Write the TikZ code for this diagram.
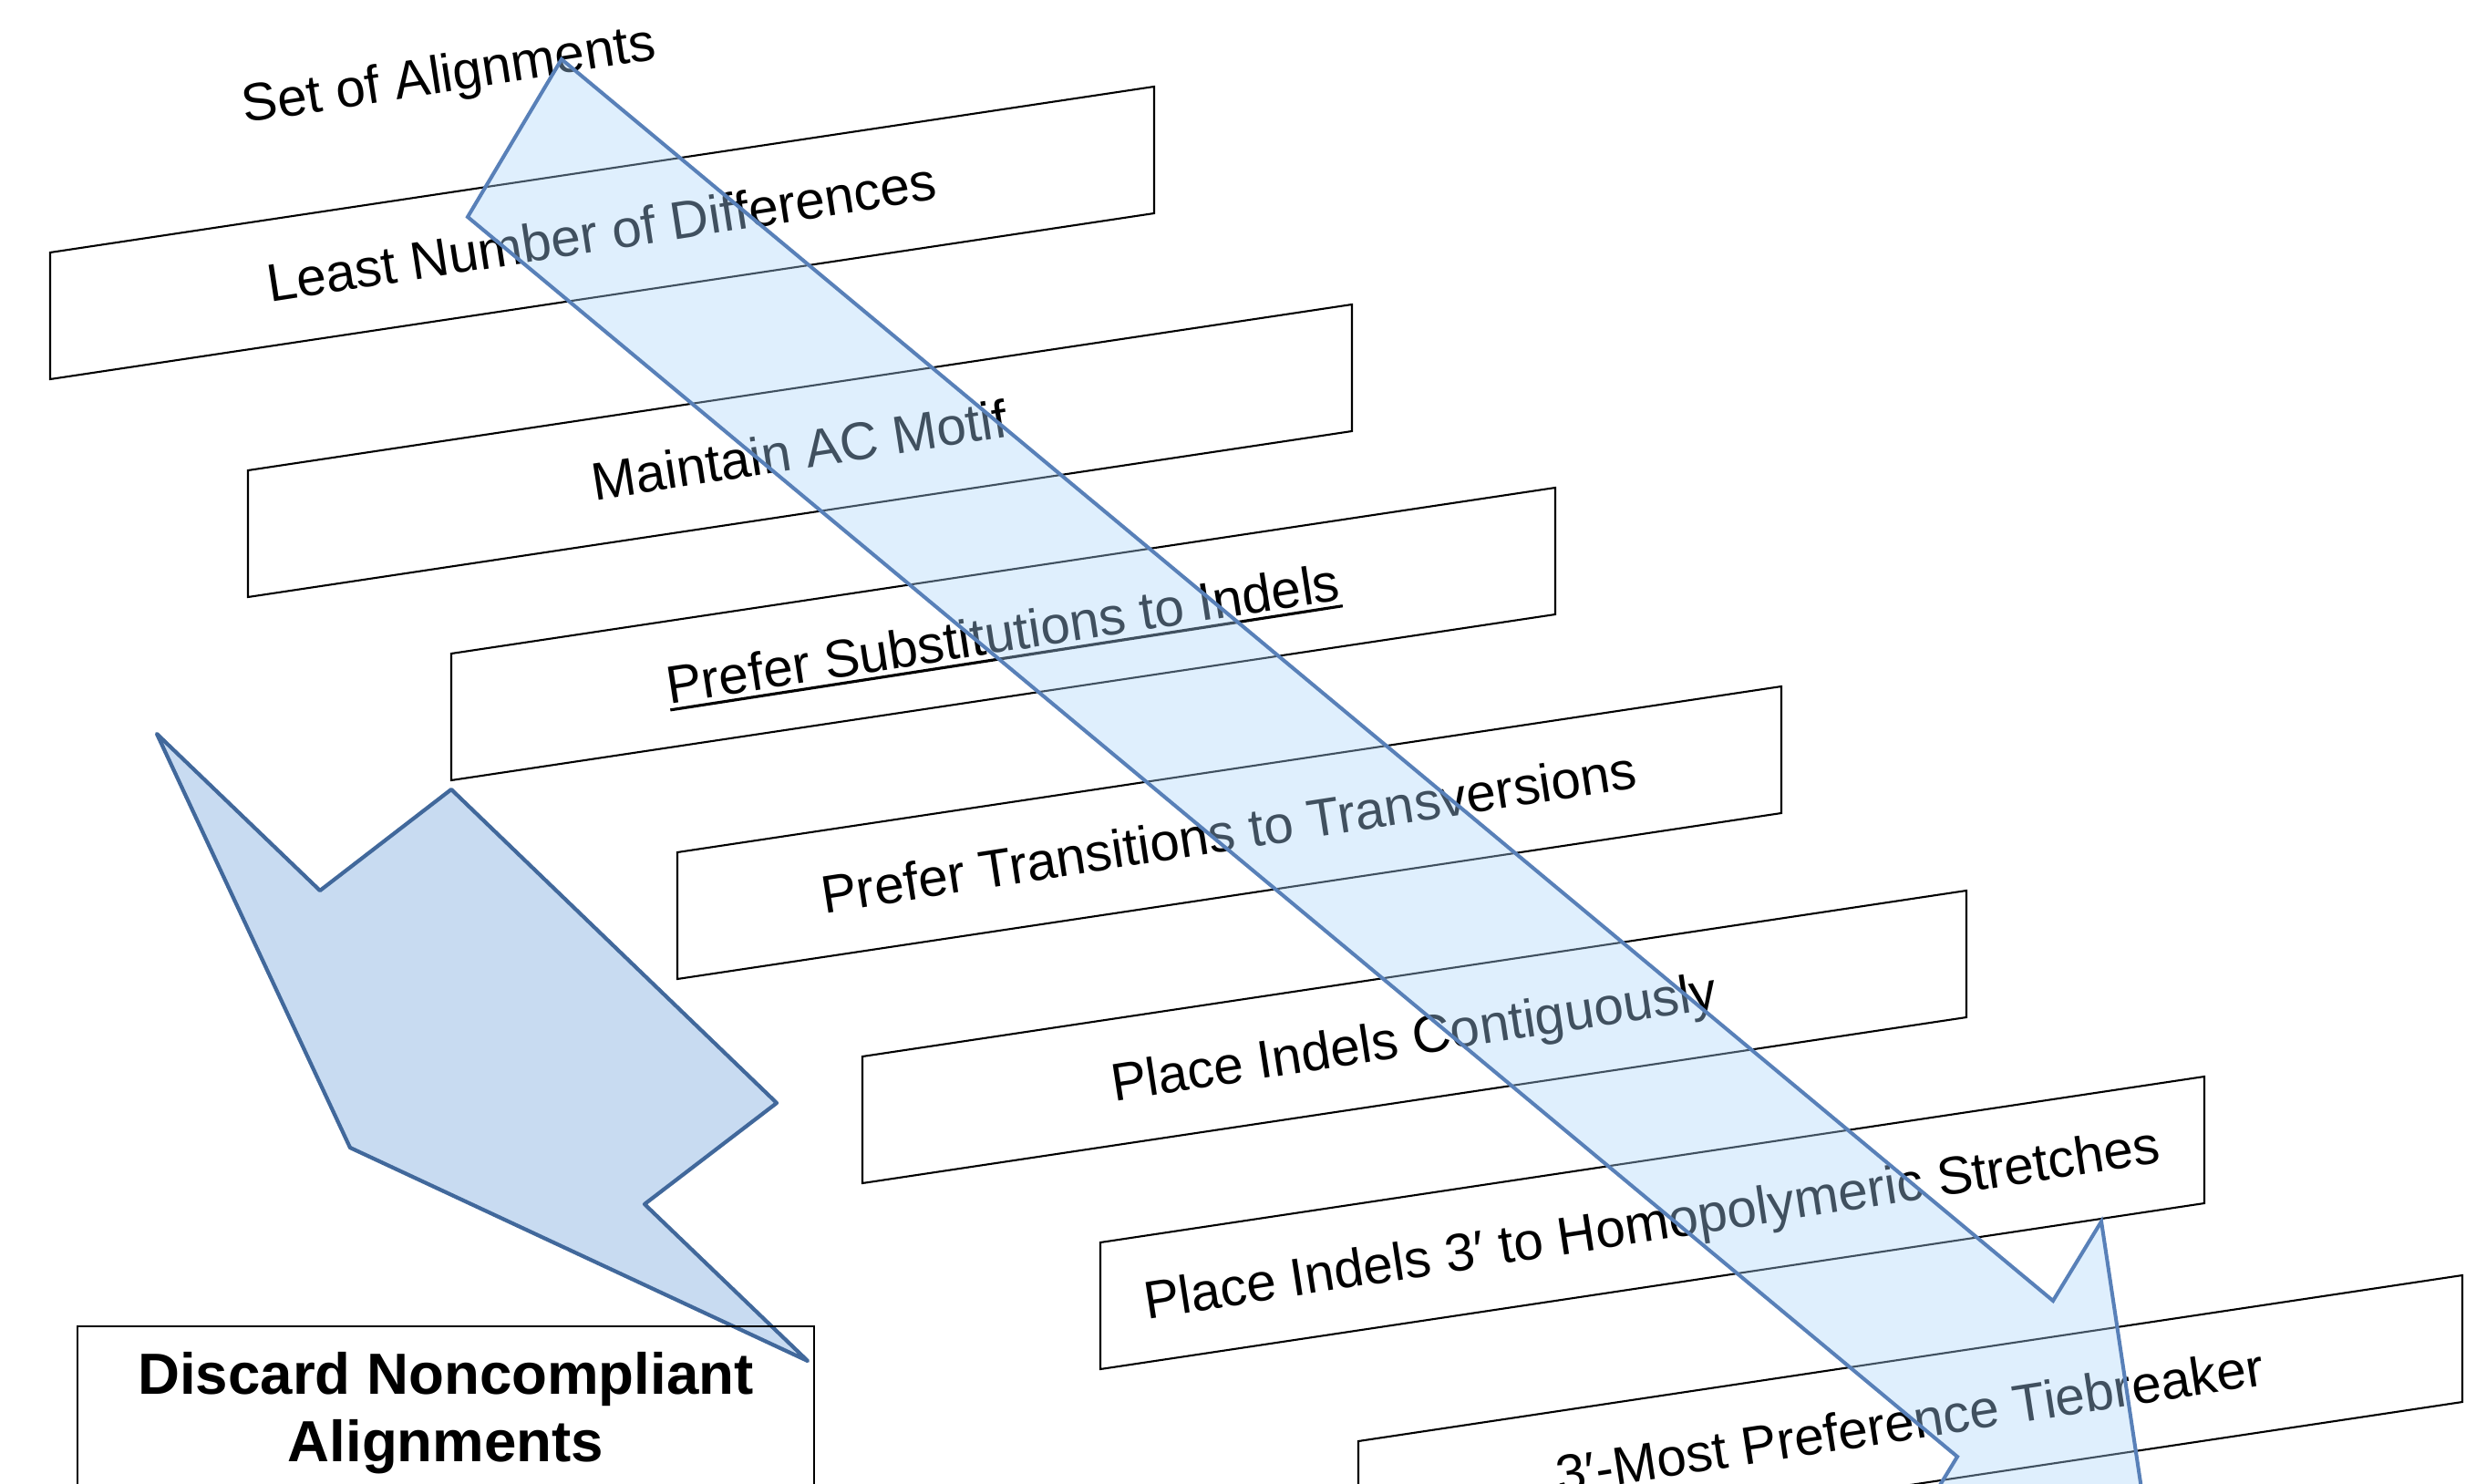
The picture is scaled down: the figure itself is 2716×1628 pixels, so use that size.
\documentclass[tikz,border=0pt]{standalone}
\usepackage{fontspec}
\setmainfont{Liberation Sans}
\usepackage{xcolor}
\usetikzlibrary{calc}
\definecolor{flowfill}{RGB}{170,212,250}
\definecolor{flowline}{RGB}{88,128,184}
\definecolor{dropfill}{RGB}{200,219,241}
\definecolor{dropline}{RGB}{65,104,155}
\tikzset{
  rulebox/.style={draw=black, line width=0.6pt},
  ruletext/.style={rotate=8.8, anchor=base, inner sep=0pt, font=\fontsize{16.6pt}{20pt}\selectfont},
  flowarrow/.style={draw=flowline, line width=1.15pt, fill=flowfill, fill opacity=0.38},
  droparrow/.style={draw=dropline, line width=1.2pt, fill=dropfill, line join=round},
  discardframe/.style={draw=black, line width=0.8pt},
  discardtext/.style={align=center, inner sep=0pt, font=\bfseries\fontsize{18.1pt}{21.2pt}\selectfont}
}
\newcommand{\underlined}[1]{\setbox0=\hbox{#1}\rlap{\rule[-2.4pt]{\wd0}{0.9pt}}\box0}

\begin{document}
\begin{tikzpicture}[x=0.01cm, y=-0.01cm]
\useasboundingbox (0,0) rectangle (2716,1628);
\clip (0,0) rectangle (2716,1628);
\node[ruletext] (start) at (495,100) {Set of Alignments};
\foreach \x/\y/\name/\txt in {55/277/fewest/{Least Number of Differences},
  272/516/motif/{Maintain AC Motif},
  495/717/subst/{\underlined{Prefer Substitutions to Indels}},
  743/935/trans/{Prefer Transitions to Transversions},
  946/1159/contig/{Place Indels Contiguously},
  1207/1363/homo/{Place Indels 3′ to Homopolymeric Stretches},
  1490/1581/tie/{3′-Most Preference Tiebreaker}} {
\draw[rulebox] (\x,\y) -- ++(1211,-182) -- ++(0,139) -- ++(-1211,182) -- cycle;
\node[ruletext] (\name) at (\x+608,\y-2) {\txt};
};
\draw[droparrow] (172,805) -- (351,977) -- (495,866) -- (852,1210) -- (707,1321) -- (886,1493) -- (384,1259) -- cycle;
\draw[discardframe] (85,1720) -- (85,1455) -- (893,1455) -- (893,1720);
\node[discardtext] (discard) at (489,1550) {Discard Noncompliant\\Alignments};
\draw[flowarrow] (616,65) -- (2252,1427) -- (2305,1340) -- (2350,1640) -- (2094,1685) -- (2147,1598) -- (513,238) -- cycle;
\end{tikzpicture}
\end{document}
